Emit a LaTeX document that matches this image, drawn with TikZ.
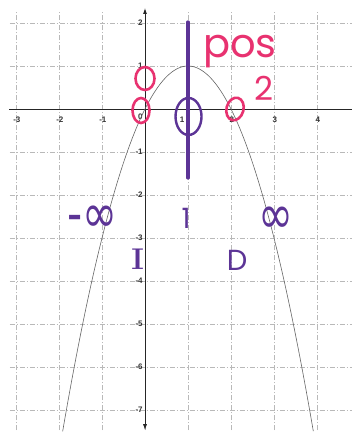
\documentclass[tikz,border=0pt]{standalone}
\usepackage{fontspec}
\newfontfamily\hand{Poppins}
\newfontfamily\sym{DejaVu Sans}
\newfontfamily\lab{Liberation Sans}
\usetikzlibrary{arrows.meta}
\definecolor{pinkpen}{RGB}{232,50,112}
\definecolor{purplepen}{RGB}{92,52,150}
\tikzset{
  gridline/.style={gray!55, line width=0.45pt, dash pattern=on 5pt off 2pt on 1pt off 2pt},
  axisline/.style={black!85, line width=0.9pt},
  ticklab/.style={inner sep=0pt, font=\lab\fontsize{8}{8}\selectfont\bfseries, text=black!80},
  curveline/.style={gray!80!black, line width=0.6pt},
  pinkring/.style={pinkpen, line width=2.6pt},
  purplering/.style={purplepen, line width=2.4pt},
  pinktext/.style={pinkpen, inner sep=0pt},
  purpletext/.style={purplepen, inner sep=0pt}
}
\begin{document}
\begin{tikzpicture}[x=43pt,y=43pt]
\useasboundingbox (-3.3721,-7.5349) rectangle (4.8140,2.5349);
\fill[white] (-3.3721,-7.5349) rectangle (4.8140,2.5349);
% grid
\foreach \x in {-3,...,4} \draw[gridline] (\x,-7.47) -- (\x,2.26);
\foreach \y in {-7,...,2} \draw[gridline] (-3.14,\y) -- (4.82,\y);
% axes
\draw[axisline] (-3.16,0) -- (4.82,0);
\draw[axisline,{Latex[length=6pt,width=4pt]}-{Latex[length=6pt,width=4pt]}] (0,-7.47) -- (0,2.35);
% tick labels
\foreach \x [count=\i] in {-3,-2,-1,2,3,4}
  \node[ticklab] (xl\i) at (\x+0.02,-0.256) {\x};
\node[ticklab] (xl0) at (-0.11,-0.19) {0};
\node[ticklab] (xlone) at (0.86,-0.256) {1};
\foreach \y [count=\i] in {2,1,-1,-2,-3,-4,-5,-6,-7}
  \node[ticklab,anchor=east] (yl\i) at (-0.05,\y) {\y};
% parabola
\draw[curveline] plot[domain=-1.915:3.915, samples=120, smooth] (\x, {-(\x)*(\x)+2*(\x)});
% pink annotations
\draw[pinkring] (0,0.709) ellipse [x radius=9.5pt, y radius=11.5pt];
\draw[pinkring] (-0.093,-0.035) ellipse [x radius=8.5pt, y radius=12.5pt];
\draw[pinkring, rotate around={-15:(2.093,0)}] (2.093,0) ellipse [x radius=8.5pt, y radius=11.5pt];
\node[pinktext, anchor=base west, font=\hand\fontsize{40}{40}\selectfont] (pos) at (1.349,1.209) {pos};
\node[pinktext, font=\hand\fontsize{33}{33}\selectfont] (two) at (2.767,0.488) {2};
% purple annotations
\coordinate (vtop) at (1,2.02);
\coordinate (vbot) at (1,-1.6);
\draw[purplepen, line width=3.6pt, line cap=round] (vtop) -- (vbot);
\draw[purplering] (1.012,-0.174) ellipse [x radius=13pt, y radius=18.5pt];
\node[purpletext, font=\sym\fontsize{42}{42}\selectfont, yscale=1.3, transform shape] (minf) at (-1.221,-2.558) {-∞};
\node[purpletext, font=\bfseries\fontsize{30}{30}\selectfont] (incr) at (-0.17,-3.49) {I};
\node[purpletext, font=\hand\fontsize{28}{28}\selectfont] (one) at (0.953,-2.535) {1};
\node[purpletext, font=\sym\fontsize{42}{42}\selectfont, yscale=1.3, transform shape] (pinf) at (3.047,-2.581) {∞};
\node[purpletext, font=\hand\fontsize{29}{29}\selectfont] (decr) at (2.140,-3.512) {D};
\end{tikzpicture}
\end{document}
